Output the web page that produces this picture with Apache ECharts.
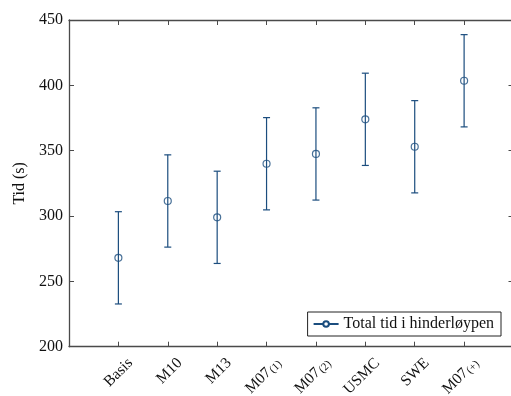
<!DOCTYPE html>
<html>
<head>
<meta charset="utf-8">
<script src="https://cdn.jsdelivr.net/npm/echarts@6/dist/echarts.min.js"></script>
<style>
  html, body { margin: 0; padding: 0; background: #fff; }
  #chart { width: 511px; height: 396px; }
</style>
</head>
<body>
<div id="chart"></div>
<script>
// Obstacle course total times per configuration (mean and ± spread, seconds)
const categories = ['Basis', 'M10', 'M13', 'M07(1)', 'M07(2)', 'USMC', 'SWE', 'M07(+)'];
const meanTime = [268, 311.5, 299, 340, 347.5, 374, 353, 403.5];
const spread = [35.3, 35.3, 35.3, 35.3, 35.3, 35.3, 35.3, 35.3];
const yTicks = [200, 250, 300, 350, 400, 450];
const seriesName = 'Total tid i hinderløypen';

const BLUE = '#1b4d7e';
const AXIS = '#4a4a4a';
const FONT = 'Liberation Serif';

const points = meanTime.map((v, i) => [i, v]);
const bars = meanTime.map((v, i) => [i, v - spread[i], v + spread[i]]);

// Label text: trailing "(n)" is set as a small subscript
function labelText(name) {
  const m = name.match(/^(.*?)(\(.*\))$/);
  if (m) return '{a|' + m[1] + '}{b|' + m[2] + '}';
  return '{a|' + name + '}';
}

const chart = echarts.init(document.getElementById('chart'), null, { renderer: 'canvas' });
chart.setOption({
  animation: false,
  backgroundColor: '#ffffff',
  textStyle: { fontFamily: FONT },
  grid: [
    { left: 69, top: 20, width: 444.5, height: 326.7, outerBoundsMode: 'none', containLabel: false },
    // companion grid holding only the rotated category labels
    { left: 69 + 12, top: 20, width: 444.5, height: 326.7, outerBoundsMode: 'none', containLabel: false }
  ],
  legend: {
    data: [seriesName],
    right: 10,
    top: 312,
    itemWidth: 25,
    itemHeight: 7,
    itemGap: 0,
    padding: [4, 7, 4, 5],
    borderColor: '#222',
    borderWidth: 1,
    borderRadius: 0,
    backgroundColor: '#fff',
    textStyle: { fontFamily: FONT, fontSize: 16, color: '#111', padding: [2, 0, 0, 0] }
  },
  xAxis: [
    {
      type: 'value', gridIndex: 0, position: 'bottom',
      min: -1, max: 8, interval: 1,
      axisLine: { show: true, onZero: false, lineStyle: { color: AXIS, width: 1.3 } },
      axisTick: { show: true, inside: true, length: 5, lineStyle: { color: AXIS } },
      axisLabel: { show: false },
      splitLine: { show: false }
    },
    {
      type: 'value', gridIndex: 0, position: 'top',
      min: -1, max: 8, interval: 1,
      axisLine: { show: true, onZero: false, lineStyle: { color: AXIS, width: 1.3 } },
      axisTick: { show: true, inside: true, length: 5, lineStyle: { color: AXIS } },
      axisLabel: { show: false },
      splitLine: { show: false }
    },
    {
      type: 'value', gridIndex: 1, position: 'bottom',
      min: -1, max: 8, interval: 1,
      axisLine: { show: false, onZero: false },
      axisTick: { show: false },
      splitLine: { show: false },
      axisLabel: {
        show: true,
        rotate: 45,
        margin: 14,
        formatter: v => (v >= 0 && v < categories.length && Number.isInteger(v)) ? labelText(categories[v]) : '',
        rich: {
          a: { fontFamily: FONT, fontSize: 15.5, color: '#111' },
          b: { fontFamily: FONT, fontSize: 11, color: '#111', padding: [5, 0, 0, 1] }
        }
      }
    }
  ],
  yAxis: [
    {
      type: 'value', gridIndex: 0, position: 'left',
      min: 200, max: 450, interval: 50,
      name: 'Tid (s)',
      nameLocation: 'middle',
      nameGap: 40,
      nameRotate: 90,
      nameTextStyle: { fontFamily: FONT, fontSize: 16, color: '#111' },
      axisLine: { show: true, onZero: false, lineStyle: { color: AXIS, width: 1.3 } },
      axisTick: { show: true, inside: true, length: 5, lineStyle: { color: AXIS } },
      axisLabel: {
        margin: 6, fontFamily: FONT, fontSize: 16, color: '#111',
        formatter: v => yTicks.includes(v) ? String(v) : ''
      },
      splitLine: { show: false }
    },
    {
      type: 'value', gridIndex: 0, position: 'right',
      min: 200, max: 450, interval: 50,
      axisLine: { show: true, onZero: false, lineStyle: { color: 'rgba(0,0,0,0)' } },
      axisTick: { show: true, inside: true, length: 5, lineStyle: { color: AXIS } },
      axisLabel: { show: false },
      splitLine: { show: false }
    },
    {
      type: 'value', gridIndex: 1, min: 200, max: 450, show: false
    }
  ],
  series: [
    {
      // legend sample: short line with a small ring
      name: seriesName,
      type: 'line',
      xAxisIndex: 0, yAxisIndex: 0,
      data: [],
      symbol: 'emptyCircle',
      symbolSize: 6,
      lineStyle: { color: BLUE, width: 1.2 },
      itemStyle: { color: BLUE, borderWidth: 1.2 }
    },
    {
      name: seriesName,
      type: 'custom',
      xAxisIndex: 0, yAxisIndex: 0,
      data: bars,
      z: 2,
      renderItem: function (params, api) {
        const x = api.value(0);
        const lo = api.coord([x, api.value(1)]);
        const hi = api.coord([x, api.value(2)]);
        const cap = 3.5;
        const style = { stroke: BLUE, lineWidth: 1.2, fill: null };
        return {
          type: 'group',
          children: [
            { type: 'line', shape: { x1: lo[0], y1: lo[1], x2: hi[0], y2: hi[1] }, style },
            { type: 'line', shape: { x1: lo[0] - cap, y1: lo[1], x2: lo[0] + cap, y2: lo[1] }, style },
            { type: 'line', shape: { x1: hi[0] - cap, y1: hi[1], x2: hi[0] + cap, y2: hi[1] }, style }
          ]
        };
      },
      itemStyle: { color: BLUE }
    },
    {
      name: seriesName,
      type: 'scatter',
      xAxisIndex: 0, yAxisIndex: 0,
      data: points,
      symbol: 'circle',
      symbolSize: 7,
      z: 3,
      itemStyle: { color: 'rgba(0,0,0,0)', borderColor: BLUE, borderWidth: 1.2 }
    }
  ]
});
</script>
</body>
</html>
